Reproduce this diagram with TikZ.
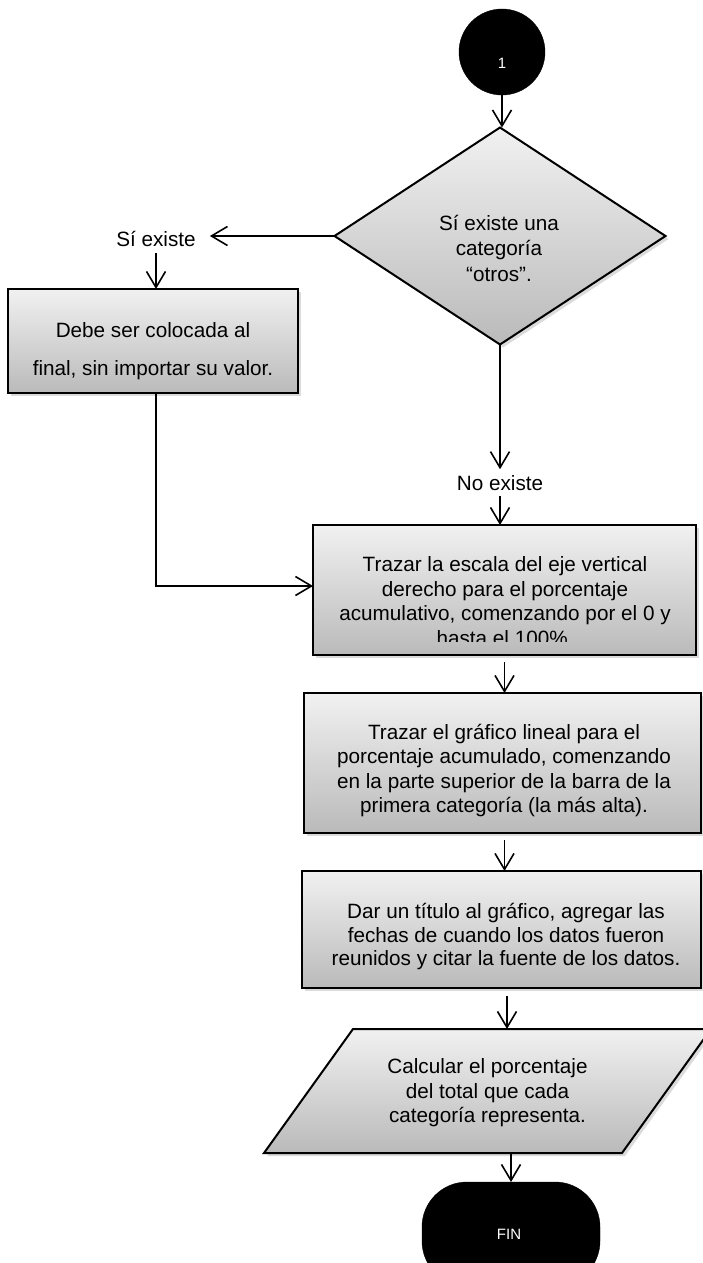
\documentclass[tikz,border=0pt]{standalone}
\usepackage{fontspec}
\setmainfont{Liberation Sans}
\usetikzlibrary{arrows.meta,shapes.geometric,shadows,calc}
\definecolor{boxtop}{RGB}{241,241,241}
\definecolor{boxbot}{RGB}{186,186,186}
\tikzset{
  shadebox/.style={draw=black, line width=2pt, top color=boxtop, bottom color=boxbot,
    drop shadow={shadow xshift=3pt, shadow yshift=-3pt, opacity=0.28}},
  procbox/.style={shadebox, rectangle, inner sep=0pt, outer sep=0pt},
  txt/.style={align=center, font=\fontsize{20.7}{24.5}\selectfont, inner sep=0pt},
  lbl/.style={font=\fontsize{20.7}{24.5}\selectfont, inner sep=2pt},
  term/.style={fill=black, draw=black, inner sep=0pt, outer sep=0pt},
  termtxt/.style={text=white, font=\fontsize{15}{17}\selectfont, inner sep=0pt},
  arr/.style={line width=1.6pt, -{Straight Barb[length=16pt,width=19pt]}},
}
\begin{document}
\begin{tikzpicture}[x=1pt,y=-1pt]
\fill[white] (0,0) rectangle (702,1263);
\useasboundingbox (0,0) rectangle (702,1263);

% start connector
\node[term, circle, minimum size=86pt] (start) at (502,52) {};
\node[termtxt] (startlbl) at (502,63) {1};

% decision
\node[diamond, shadebox, inner sep=0pt, outer sep=0pt, minimum width=331pt, minimum height=217pt] (dec) at (500,236) {};
\node[txt, font=\fontsize{20.7}{25.5}\selectfont] (dectxt) at (499,248) {Sí existe una\\categoría\\“otros”.};

% branch labels
\node[lbl] (si) at (156,239) {Sí existe};
\node[lbl] (no) at (500,483) {No existe};

% left process box
\node[procbox, minimum width=290pt, minimum height=104pt] (box1) at (153,341) {};
\node[txt, font=\fontsize{20.7}{38}\selectfont] (box1txt) at (153,351) {Debe ser colocada al\\final, sin importar su valor.};

% main column of process boxes
\node[procbox, minimum width=383pt, minimum height=130pt] (box2) at (504.5,590) {};
\begin{scope}
  \clip (313,525) rectangle (696,641);
  \node[txt] (box2txt) at (505,601) {Trazar la escala del eje vertical\\derecho para el porcentaje\\acumulativo, comenzando por el 0 y\\hasta el 100\%.};
\end{scope}

\node[procbox, minimum width=397pt, minimum height=140pt] (box3) at (502.5,763) {};
\node[txt] (box3txt) at (504,770.5) {Trazar el gráfico lineal para el\\porcentaje acumulado, comenzando\\en la parte superior de la barra de la\\primera categoría (la más alta).};

\node[procbox, minimum width=399pt, minimum height=117pt] (box4) at (501.5,929.5) {};
\node[txt, font=\fontsize{20.7}{23.5}\selectfont] (box4txt) at (506,937) {Dar un título al gráfico, agregar las\\fechas de cuando los datos fueron\\reunidos y citar la fuente de los datos.};

% input/output parallelogram
\node[inner sep=0pt, outer sep=0pt, minimum width=358pt, minimum height=124pt] (para) at (487.5,1091) {};
\path[shadebox] ($(para.south west)+(-44.5,0)$) -- ($(para.north west)+(44.5,0)$)
  -- ($(para.north east)+(44.5,0)$) -- ($(para.south east)+(-44.5,0)$) -- cycle;
\node[txt] (paratxt) at (487.5,1093) {Calcular el porcentaje\\del total que cada\\categoría representa.};

% end terminator
\node[term, rounded corners=45pt, minimum width=178pt, minimum height=104pt] (fin) at (511,1234) {};
\node[termtxt] (fintxt) at (509,1234) {FIN};

% connectors
\draw[arr] (start.south) -- (start.south |- dec.north);
\draw[arr] (dec.west) -- ([xshift=12pt]si.east |- dec.west);
\draw[arr, shorten <=4pt] (si.south) -- (si.south |- box1.north);
\draw[arr] (box1.south -| si.south) |- ([yshift=4pt]box2.west);
\draw[arr, shorten >=4pt] (dec.south) -- (no.north);
\draw[arr, shorten <=3pt] (no.south) -- (no.south |- box2.north);
\draw[arr, shorten <=7pt] (box2.south) -- (box2.south |- box3.north);
\draw[arr, shorten <=7pt] ([xshift=2pt]box3.south) -- ([xshift=2pt]box3.south |- box4.north);
\draw[arr, shorten <=8pt] ([xshift=5.5pt]box4.south) -- ([xshift=5.5pt]box4.south |- para.north);
\draw[arr] (fin.north |- para.south) -- (fin.north);
\end{tikzpicture}
\end{document}
